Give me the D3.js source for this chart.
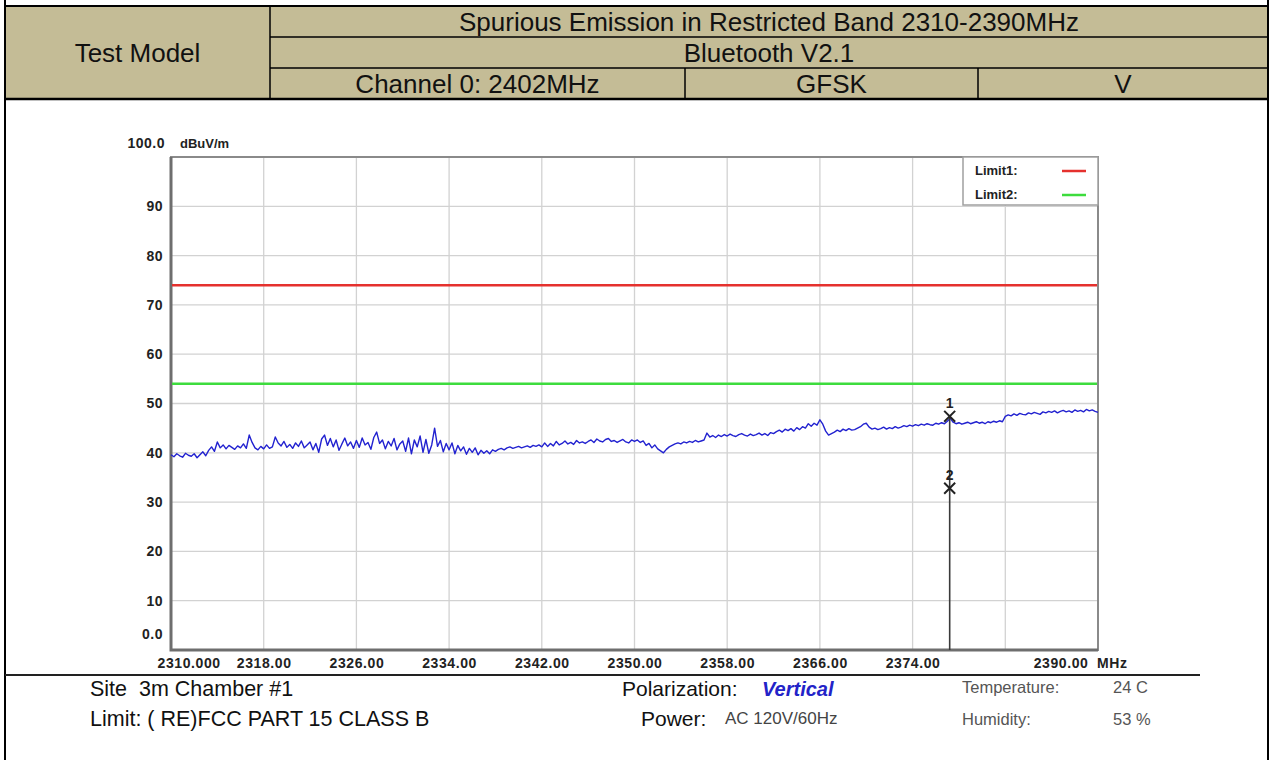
<!DOCTYPE html>
<html>
<head>
<meta charset="utf-8">
<script src="https://cdn.jsdelivr.net/npm/d3@7"></script>
<style>
body { margin: 0; background: #fff; }
svg { display: block; font-family: "Liberation Sans", Arial, sans-serif; }
</style>
</head>
<body>
<script>
// Header table texts
const headerLabel = "Test Model";
const headerTitle = "Spurious Emission in Restricted Band 2310-2390MHz";
const headerMode = "Bluetooth V2.1";
const headerCells = ["Channel 0: 2402MHz", "GFSK", "V"];

// Axes
const freqStart = 2310;
const freqEnd = 2390;
const freqStep = 0.25;
const xTicks = [2310, 2318, 2326, 2334, 2342, 2350, 2358, 2366, 2374, 2390];
const xGrid = [2318, 2326, 2334, 2342, 2350, 2358, 2366, 2374, 2382];
const yTicks = [0, 10, 20, 30, 40, 50, 60, 70, 80, 90, 100];
const yUnit = "dBuV/m";
const xUnit = "MHz";

// Limits (dBuV/m)
const limitNames = ["Limit1:", "Limit2:"];
const limitLevels = [74, 54];
const limitColors = ["#e5312e", "#3ddc3d"];

// Measured trace, dBuV/m, one value every 0.25 MHz from 2310 MHz
const levels = [
  39.6, 39.2, 39.8, 39.4, 39.1, 39.9, 39.5, 39.3, 39.8, 39.0, 39.6, 40.2, 39.4, 40.5, 41.2, 40.3,
  42.2, 41.0, 41.6, 40.8, 41.5, 41.1, 40.7, 41.4, 41.0, 41.8, 40.9, 43.6, 42.1, 41.0, 40.6, 41.3,
  40.8, 41.6, 40.9, 41.2, 43.2, 42.0, 41.4, 42.3, 41.1, 41.7, 40.9, 42.0, 41.3, 42.4, 41.0, 41.6,
  42.2, 40.6, 41.9, 40.1, 42.8, 43.6, 41.5, 42.9, 41.2, 42.6, 40.5, 41.8, 43.0, 41.4, 42.2, 40.9,
  42.5, 41.1, 43.0, 41.6, 42.1, 40.7, 43.1, 44.2, 41.9, 42.6, 40.8, 42.3, 41.4, 42.9, 40.6, 41.8,
  42.4, 40.3, 43.0, 39.8, 42.6, 41.2, 43.4, 40.1, 42.7, 39.9, 41.6, 45.0, 41.3, 42.5, 40.2, 41.9,
  40.6, 42.0, 39.8, 41.5, 40.4, 41.2, 39.7, 40.9, 40.1, 41.0, 39.6, 40.5, 39.9, 40.4, 39.8, 40.6,
  40.3, 40.7, 40.9, 40.6, 41.0, 41.2, 40.9, 41.1, 41.3, 41.0, 41.2, 41.4, 41.1, 41.5, 41.3, 41.6,
  41.2, 42.0, 41.3, 41.9, 41.4, 42.3, 41.6, 41.9, 42.4, 41.8, 42.1, 41.7, 42.5, 42.0, 42.2, 41.9,
  42.3, 42.6, 42.1, 42.8, 42.4, 42.2, 42.7, 42.9, 42.3, 42.5, 42.1, 42.4, 42.7, 42.2, 42.0, 42.6,
  42.3, 42.6, 42.1, 42.4, 41.5, 41.9, 41.0, 41.6, 40.8, 40.4, 40.0, 40.7, 41.2, 41.5, 41.8, 42.0,
  41.8, 42.2, 42.0, 42.3, 42.1, 42.5, 42.2, 42.4, 42.6, 44.0, 43.2, 43.5, 43.1, 43.6, 43.3, 43.7,
  43.4, 43.8, 43.5, 43.3, 43.7, 43.9, 43.6, 43.4, 43.8, 43.5, 43.7, 44.0, 43.6, 43.9, 43.5, 44.1,
  43.9, 44.3, 44.6, 44.2, 44.8, 44.5, 44.9, 44.4, 45.1, 44.7, 45.3, 45.0, 45.9, 45.4, 46.0, 45.6,
  46.7, 45.8, 44.4, 43.6, 43.9, 44.2, 44.6, 44.3, 44.8, 44.5, 44.9, 44.6, 44.7, 45.0, 45.3, 45.8,
  46.0, 45.2, 44.8, 45.0, 44.7, 44.9, 45.2, 44.8, 45.1, 44.9, 45.3, 45.0, 45.2, 45.5, 45.3, 45.6,
  45.4, 45.7, 45.5, 45.8, 45.6, 45.9, 45.7, 45.6, 46.0, 45.8, 46.1, 45.9, 46.4, 47.0, 46.2, 45.9,
  46.1, 45.8, 46.0, 46.2, 45.9, 46.1, 46.3, 46.0, 46.2, 45.9, 46.3, 46.1, 46.4, 46.2, 46.5, 46.3,
  47.4, 47.7, 47.5, 47.9, 47.6, 48.0, 47.8, 47.7, 48.1, 47.9, 48.2, 48.0, 47.8, 48.3, 48.1, 48.4,
  48.2, 48.5, 48.1, 48.4, 48.6, 48.3, 48.5, 48.2, 48.7, 48.4, 48.6, 48.3, 48.8, 48.5, 48.7, 48.4,
  48.2
];

// Markers
const markerIds = ["1", "2"];
const markerFreqs = [2377.2, 2377.2];
const markerLevels = [47.4, 32.8];

// Footer texts
const footerLeft = ["Site  3m Chamber #1", "Limit: ( RE)FCC PART 15 CLASS B"];
const footerMidLabels = ["Polarization:", "Power:"];
const footerMidValues = ["Vertical", "AC 120V/60Hz"];
const footerRightLabels = ["Temperature:", "Humidity:"];
const footerRightValues = ["24 C", "53 %"];

// Canvas
const canvasWidth = 1273;
const canvasHeight = 760;

const svg = d3.select('body')
    .append('svg')
    .attr('width', canvasWidth)
    .attr('height', canvasHeight);

// ---- header table ----
const hdr = { left: 5, right: 1268, top: 6, bottom: 99, split: 270, col2: 685, col3: 978 };
const rowH = (hdr.bottom - hdr.top) / 3;

svg.append('rect')
    .attr('x', hdr.left).attr('y', hdr.top)
    .attr('width', hdr.right - hdr.left).attr('height', hdr.bottom - hdr.top)
    .attr('fill', '#c4bc96');

const border = svg.append('g').attr('stroke', '#000');
border.append('line').attr('x1', hdr.left).attr('x2', hdr.left).attr('y1', 0).attr('y2', canvasHeight).attr('stroke-width', 2);
border.append('line').attr('x1', hdr.right).attr('x2', hdr.right).attr('y1', 0).attr('y2', canvasHeight).attr('stroke-width', 2);
border.append('line').attr('x1', hdr.left).attr('x2', hdr.right).attr('y1', hdr.top).attr('y2', hdr.top).attr('stroke-width', 2);
border.append('line').attr('x1', hdr.left).attr('x2', hdr.right).attr('y1', hdr.bottom).attr('y2', hdr.bottom).attr('stroke-width', 2.5);
border.append('line').attr('x1', hdr.split).attr('x2', hdr.split).attr('y1', hdr.top).attr('y2', hdr.bottom).attr('stroke-width', 1.5);
[1, 2].forEach(i => {
    border.append('line')
        .attr('x1', hdr.split).attr('x2', hdr.right)
        .attr('y1', hdr.top + rowH * i).attr('y2', hdr.top + rowH * i)
        .attr('stroke-width', 1.5);
});
[hdr.col2, hdr.col3].forEach(cx => {
    border.append('line')
        .attr('x1', cx).attr('x2', cx)
        .attr('y1', hdr.top + rowH * 2).attr('y2', hdr.bottom)
        .attr('stroke-width', 1.5);
});

const hdrText = (txt, cx, cy) => svg.append('text')
    .attr('x', cx).attr('y', cy)
    .attr('text-anchor', 'middle')
    .attr('dominant-baseline', 'central')
    .attr('font-size', 26)
    .attr('fill', '#111')
    .text(txt);

hdrText(headerLabel, (hdr.left + hdr.split) / 2, (hdr.top + hdr.bottom) / 2);
hdrText(headerTitle, (hdr.split + hdr.right) / 2, hdr.top + rowH * 0.5);
hdrText(headerMode, (hdr.split + hdr.right) / 2, hdr.top + rowH * 1.5);
const cellEdges = [hdr.split, hdr.col2, hdr.col3, hdr.right];
headerCells.forEach((c, i) => hdrText(c, (cellEdges[i] + cellEdges[i + 1]) / 2, hdr.top + rowH * 2.5));

// ---- chart ----
const plot = { left: 171, right: 1098, top: 157, bottom: 650 };

let xScale = d3.scaleLinear()
    .domain([freqStart, freqEnd])
    .range([plot.left, plot.right]);

let yScale = d3.scaleLinear()
    .domain([0, 100])
    .range([plot.bottom, plot.top]);

// grid
const grid = svg.append('g').attr('stroke', '#d2d2d2').attr('stroke-width', 1.3);
grid.selectAll('line.gx').data(xGrid).enter().append('line')
    .attr('x1', d => xScale(d)).attr('x2', d => xScale(d))
    .attr('y1', plot.top).attr('y2', plot.bottom);
grid.selectAll('line.gy').data(yTicks.slice(1, -1)).enter().append('line')
    .attr('x1', plot.left).attr('x2', plot.right)
    .attr('y1', d => yScale(d)).attr('y2', d => yScale(d));

// frame
svg.append('rect')
    .attr('x', plot.left).attr('y', plot.top)
    .attr('width', plot.right - plot.left).attr('height', plot.bottom - plot.top)
    .attr('fill', 'none').attr('stroke', '#8a8a8a').attr('stroke-width', 2);
svg.append('path')
    .attr('d', `M${plot.left},${plot.top}V${plot.bottom}H${plot.right}`)
    .attr('fill', 'none').attr('stroke', '#6e6e6e').attr('stroke-width', 3);

// limit lines
svg.selectAll('line.limit').data(limitLevels).enter().append('line')
    .attr('x1', plot.left + 1).attr('x2', plot.right - 1)
    .attr('y1', d => yScale(d)).attr('y2', d => yScale(d))
    .attr('stroke', (d, i) => limitColors[i])
    .attr('stroke-width', 2.5);

// trace
let traceFn = d3.line()
    .x((d, i) => xScale(freqStart + i * freqStep))
    .y(d => yScale(d));
svg.append('path')
    .datum(levels)
    .attr('d', traceFn)
    .attr('fill', 'none')
    .attr('stroke', '#2222d0')
    .attr('stroke-width', 1.4)
    .attr('stroke-linejoin', 'round');

// marker line
svg.append('line')
    .attr('x1', xScale(markerFreqs[0])).attr('x2', xScale(markerFreqs[0]))
    .attr('y1', yScale(markerLevels[0])).attr('y2', plot.bottom)
    .attr('stroke', '#3a3a3a').attr('stroke-width', 1.6);

const markerGroup = svg.append('g');
markerIds.forEach((id, i) => {
    const mx = xScale(markerFreqs[i]);
    const my = yScale(markerLevels[i]);
    markerGroup.append('path')
        .attr('transform', `translate(${mx},${my})`)
        .attr('d', d3.symbol().type(d3.symbolX).size(80)())
        .attr('fill', 'none').attr('stroke', '#222').attr('stroke-width', 2);
    markerGroup.append('text')
        .attr('x', mx).attr('y', my - 8)
        .attr('text-anchor', 'middle')
        .attr('font-size', 14).attr('font-weight', 'bold').attr('fill', '#222')
        .text(id);
});

// legend
const legend = svg.append('g');
legend.append('rect')
    .attr('x', 963).attr('y', plot.top)
    .attr('width', plot.right - 963).attr('height', 48)
    .attr('fill', '#fff').attr('stroke', '#a0a0a0').attr('stroke-width', 1.5);
limitNames.forEach((n, i) => {
    legend.append('text')
        .attr('x', 975).attr('y', 170 + i * 24)
        .attr('dominant-baseline', 'central')
        .attr('font-size', 13).attr('font-weight', 'bold').attr('fill', '#222')
        .text(n);
    legend.append('line')
        .attr('x1', 1062).attr('x2', 1086)
        .attr('y1', 171 + i * 24).attr('y2', 171 + i * 24)
        .attr('stroke', limitColors[i]).attr('stroke-width', 2.5);
});

// y axis
const yAxis = svg.append('g')
    .attr('transform', `translate(${plot.left},0)`)
    .call(d3.axisLeft(yScale)
        .tickValues(yTicks)
        .tickSize(0)
        .tickPadding(8)
        .tickFormat(d => (d === 0 || d === 100) ? d.toFixed(1) : d));
yAxis.select('.domain').remove();
yAxis.selectAll('text')
    .attr('font-family', '"Liberation Sans", Arial, sans-serif')
    .attr('font-size', 14).attr('font-weight', 'bold').attr('fill', '#222')
    .attr('letter-spacing', 0.5)
    .attr('dx', d => d === 100 ? 2 : 0)
    .attr('dy', d => d === 100 ? '-0.7em' : d === 0 ? '-0.85em' : '0.32em');

svg.append('text')
    .attr('x', 180).attr('y', 143)
    .attr('dominant-baseline', 'central')
    .attr('font-size', 13).attr('font-weight', 'bold').attr('fill', '#222')
    .text(yUnit);

// x axis
const xAxis = svg.append('g')
    .attr('transform', `translate(0,${plot.bottom})`)
    .call(d3.axisBottom(xScale)
        .tickValues(xTicks)
        .tickSize(0)
        .tickPadding(8)
        .tickFormat(d => d === freqStart ? d.toFixed(3) : d.toFixed(2)));
xAxis.select('.domain').remove();
xAxis.selectAll('text')
    .attr('font-family', '"Liberation Sans", Arial, sans-serif')
    .attr('font-size', 14).attr('font-weight', 'bold').attr('fill', '#222')
    .attr('letter-spacing', 0.6)
    .attr('text-anchor', d => d === freqStart ? 'start' : d === freqEnd ? 'end' : 'middle')
    .attr('dx', d => d === freqStart ? -14 : d === freqEnd ? -10 : 0);

svg.append('text')
    .attr('x', 1097).attr('y', plot.bottom + 8)
    .attr('dy', '0.71em')
    .attr('font-size', 14).attr('font-weight', 'bold').attr('fill', '#222')
    .attr('letter-spacing', 0.6)
    .text(xUnit);

// ---- footer ----
svg.append('line')
    .attr('x1', hdr.left).attr('x2', 1200)
    .attr('y1', 675).attr('y2', 675)
    .attr('stroke', '#222').attr('stroke-width', 2);

const rowsY = [696, 726];
footerLeft.forEach((t, i) => {
    svg.append('text')
        .attr('x', 90).attr('y', rowsY[i])
        .attr('font-size', 21.5).attr('fill', '#111')
        .style('white-space', 'pre')
        .text(t);
});
const midX = [622, 641];
const midValX = [762, 725];
footerMidLabels.forEach((t, i) => {
    svg.append('text')
        .attr('x', midX[i]).attr('y', rowsY[i])
        .attr('font-size', 21).attr('fill', '#111')
        .text(t);
});
svg.append('text')
    .attr('x', midValX[0]).attr('y', rowsY[0])
    .attr('font-size', 20).attr('font-weight', 'bold').attr('font-style', 'italic')
    .attr('fill', '#2323c8')
    .text(footerMidValues[0]);
svg.append('text')
    .attr('x', midValX[1]).attr('y', rowsY[1] - 2)
    .attr('font-size', 17).attr('fill', '#444')
    .text(footerMidValues[1]);

const rightY = [693, 725];
footerRightLabels.forEach((t, i) => {
    svg.append('text')
        .attr('x', 962).attr('y', rightY[i])
        .attr('font-size', 16.5).attr('fill', '#555')
        .text(t);
    svg.append('text')
        .attr('x', 1113).attr('y', rightY[i])
        .attr('font-size', 16.5).attr('fill', '#555')
        .text(footerRightValues[i]);
});
</script>
</body>
</html>
